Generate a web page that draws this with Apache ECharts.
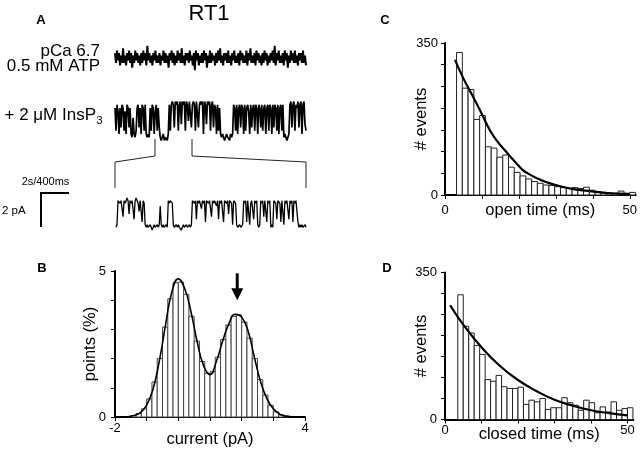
<!DOCTYPE html>
<html><head><meta charset="utf-8">
<script src="https://cdn.jsdelivr.net/npm/echarts@6/dist/echarts.min.js"></script>
<style>html,body{margin:0;padding:0;background:#fff}#c{width:640px;height:449px}</style>
</head><body><div id="c"></div><script>
const traceBaseline = [
2,-2,3,-1,2,-3,1,-2,4,-2, 1,-3,2,-1,3,-2,2,-4,1,-2, 3,-1,2,-2,1,-3,2,-2,3,-1,
2,-3,5,-1,2,-2,1,-3,2,-1, 3,-2,1,-2,2,-3,1,-1,3,-2, 2,-2,1,-4,2,-1,3,-2,2,-3,
1,-2,3,-1,2,-2,4,-2,1,-3, 2,-1,2,-2,3,-1,1,-3,2,-5, 3,-1,2,-3,1,-2,2,-2,3,-1,
2,-4,1,-2,3,-2,2,-1,1,-3, 2,-2,3,-1,4,-2,1,-3,2,-1, 2,-2,3,-2,1,-3,2,-1,3,-2,
1,-2,2,-3,3,-1,2,-2,1,-2, 3,-3,2,-1,4,-2,1,-2,2,-3, 3,-1,2,-2,1,-3,2,-2,3,-1,
2,-3,1,-2,2,-1,3,-2,5,-3, 2,-1,3,-2,1,-2,2,-3,3,-1, 2,-4,1,-2,3,-1,2,-2,3,-2,
1,-3,2,-1,2,-2,3,-2,1,-3];
const traceInsP3 = [
9,2,10,8,1,9,3,10,9,2,8,1,10,9,3,9,
1,0,6,1,0,2,
9,10,3,9,1,10,9,2,10,
1,0,1,0,
9,2,10,9,1,8,10,2,9,3,
0,-1,0,1,-1,0,0,-1,1,
10,2,10,
11,10,3,11,10,11,2,10,11,4,11,10,11,2,11,10,5,11,11,3,10,11,10,2,11,11,3,10,11,10,11,1,11,10,4,11,10,11,2,10,11,3,10,
9,1,10,2,9,1,
0,1,0,-1,0,1,0,0,-1,1,0,1,
10,9,2,10,1,9,10,3,10,9,1,10,2,9,10,8,1,10,3,9,10,2,10,9,1,10,9,3,10,2,9,10,1,9,10,2,10,9,1,10,3,10,9,2,10,1,9,10,2,10,
0,1,0,-1,0,1,
10,11,3,10,11,2,10,9,11,3,10,11,1,10,11,4,2];
const traceExpanded = [
0,1,10,
10,9,10,10,4,10,9,10,11,10,5,10,9,10,10,3,10,11,10,9,6,10,10,2,10,9,
1,0,1,0,0,1,0,-1,0,1,0,0,1,0,1,
8,1,
0,1,0,0,1,0,
10,9,10,10,9,
1,0,0,1,0,1,0,0,-1,0,1,0,0,1,0,0,1,0,1,
10,10,9,10,3,10,9,10,10,7,10,9,10,2,10,10,9,10,10,4,10,9,10,10,8,10,3,10,9,10,10,2,10,10,9,10,5,10,10,9,1,10,10,9,
1,0,0,1,0,0,1,
10,9,10,2,10,10,1,9,10,10,3,10,9,10,1,0,1,10,9,10,4,10,10,2,10,9,10,0,1,0,10,10,9,3,10,10,9,2,10,10,1,10,9,10,10,3,10,9,10,2,10,9,10,10,2,
0,1,0,1,0,0,1,0];

// ---------- Panel B: amplitude histogram ----------
const currentEdges = [-1.5,-1.333,-1.167,-1.0,-0.833,-0.667,-0.5,-0.333,-0.167,0,0.167,0.333,0.5,0.667,0.833,1.0,1.167,1.333,1.5,1.667,1.833,2.0,2.167,2.333,2.5,2.667,2.833,3.0,3.167,3.333,3.5];
const pointsPct = [0.05,0.12,0.28,0.62,1.2,2.0,3.08,4.05,4.6,4.62,4.2,3.45,2.6,1.9,1.5,1.55,2.05,2.65,3.15,3.45,3.5,3.25,2.7,2.0,1.28,0.75,0.4,0.18,0.07,0.03];
const fitCurrent = [-1.6,-1.4,-1.2,-1.0,-0.8,-0.6,-0.4,-0.2,0.0,0.2,0.4,0.6,0.8,1.0,1.2,1.4,1.6,1.8,2.0,2.2,2.4,2.6,2.8,3.0,3.2,3.4,3.6];
const fitPoints = [0.01,0.05,0.15,0.41,0.95,1.92,3.18,4.3,4.73,4.4,3.6,2.55,1.75,1.45,1.9,2.6,3.2,3.52,3.42,2.95,2.05,1.2,0.62,0.28,0.1,0.03,0.01];
const arrowMark = [1.86, 4.92, 4.0];   // x (pA), top, tip (%)
const bXTicks = [-2,-1,0,1,2,3,4], bXLabels = [-2,4];
const bYTicks = [0,1,2,3,4,5], bYLabels = [0,5];

// ---------- Panel C: open time histogram ----------
const openEdges = [3.125,4.688,6.25,7.813,9.375,10.938,12.5,14.063,15.625,17.188,18.75,20.313,21.875,23.438,25,26.563,28.125,29.688,31.25,32.813,34.375,35.938,37.5,39.063,40.625,42.188,43.75,45.313,46.875,48.438,50,51.563];
const openCounts = [328,246,243,174,183,111,108,87,92,64,52,44,37,31,27,23,22,19,17,15,17,15,18,11,8,6,5,4,9,4,6];
const openFitT = [2.7,5,7.6,10,12.1,14,16.5,19,21,23,25.5,28,30,34.4,38,43.3,47,50];
const openFitN = [311,268,226,186,150,125,100,76,58,47,36,28,23,14,10,5,3,2];

// ---------- Panel D: closed time histogram ----------
const closedEdges = [3.5,5,6.5,8,9.5,11,12.5,14,15.5,17,18.5,20,21.5,23,24.5,26,27.5,29,30.5,32,33.5,35,36.5,38,39.5,41,42.5,44,45.5,47,48.5,50,51.5];
const closedCounts = [297,222,206,176,155,95,91,105,78,74,74,77,36,46,42,50,24,28,28,52,40,34,22,46,40,16,30,18,42,22,26,28];
const closedFitT = [1.4,5,10,15,20,25,30,35,40,45,50];
const closedFitN = [272,226,172,128,94,68,47,33,22,15,10];
const timeTicks = [0,10,20,30,40,50], timeLabels = [0,50];
const eventTicks = [0,50,100,150,200,250,300,350], eventLabels = [0,350];

// ---------- build ----------
const FONT = '"Liberation Sans", Arial, Helvetica, sans-serif';
const idx = a => a.map((v,i)=>[i,v]);
const bins = (e,c) => c.map((v,i)=>[e[i], e[i+1], v]);
const pairs = (x,y) => x.map((v,i)=>[v, y[i]]);
function barRender(stroke){
  return function(params, api){
    const p0 = api.coord([api.value(0), api.value(2)]);
    const p1 = api.coord([api.value(1), 0]);
    return {type:'rect', shape:{x:p0[0], y:p0[1], width:p1[0]-p0[0], height:p1[1]-p0[1]},
      style:{fill:'#fff', stroke:stroke, lineWidth:1}};
  };
}
function valAxis(grid, min, max, interval, ticks, labels, margin, extra){
  return Object.assign({
    gridIndex:grid, type:'value', min:min, max:max, interval:interval,
    axisLine:{show:true, onZero:false, lineStyle:{color:'#000', width:2}},
    axisTick:{show:true, length:4, customValues:ticks, lineStyle:{color:'#000', width:1}},
    axisLabel:{show:true, fontSize:13, color:'#000', fontFamily:FONT, margin:margin, customValues:labels,
      formatter: v => labels.indexOf(v) >= 0 ? String(v) : ''},
    splitLine:{show:false},
    nameLocation:'middle',
    nameMoveOverlap:false,
    nameTextStyle:{fontSize:16.5, color:'#000', fontFamily:FONT}
  }, extra || {});
}
const hidden = (g, min, max) => ({gridIndex:g, type:'value', min:min, max:max, show:false});

const option = {
  animation:false,
  backgroundColor:'#fff',
  textStyle:{fontFamily:FONT, color:'#000'},
  grid:[
    {left:115, top:47, width:191, height:22},
    {left:115, top:100, width:191, height:42},
    {left:116, top:198, width:190, height:32},
    {left:115, top:271, width:190, height:146},
    {left:445, top:43, width:192.7, height:152},
    {left:445, top:272.5, width:188.3, height:147}
  ],
  xAxis:[
    hidden(0, 0, traceBaseline.length-1),
    hidden(1, 0, traceInsP3.length-1),
    hidden(2, 0, traceExpanded.length-1),
    valAxis(3, -2, 4, 1, bXTicks, bXLabels, 5, {name:'current (pA)', nameGap:14}),
    valAxis(4, 0, 51.6, 10, timeTicks, timeLabels, 9, {name:'open time (ms)', nameGap:7}),
    valAxis(5, 0, 51.6, 10, timeTicks, timeLabels, 4, {name:'closed time (ms)', nameGap:6})
  ],
  yAxis:[
    hidden(0, -4.5, 4.5),
    hidden(1, -1.5, 11.5),
    hidden(2, -1, 11),
    valAxis(3, 0, 5, 1, bYTicks, bYLabels, 9, {name:'points (%)', nameGap:16, nameRotate:90}),
    valAxis(4, 0, 350, 50, eventTicks, eventLabels, 7, {name:'# events', nameGap:15, nameRotate:90}),
    valAxis(5, 0, 350, 50, eventTicks, eventLabels, 8, {name:'# events', nameGap:15, nameRotate:90})
  ],
  series:[
    {type:'line', xAxisIndex:0, yAxisIndex:0, data:idx(traceBaseline), showSymbol:false, clip:false,
      lineStyle:{color:'#000', width:2}},
    {type:'line', xAxisIndex:1, yAxisIndex:1, data:idx(traceInsP3), showSymbol:false, clip:false,
      lineStyle:{color:'#000', width:1.7}},
    {type:'line', xAxisIndex:2, yAxisIndex:2, data:idx(traceExpanded), showSymbol:false, clip:false,
      lineStyle:{color:'#000', width:1.3}},
    {type:'custom', xAxisIndex:3, yAxisIndex:3, renderItem:barRender('#444'), data:bins(currentEdges, pointsPct),
      encode:{x:[0,1], y:2}, z:2},
    {type:'line', xAxisIndex:3, yAxisIndex:3, data:pairs(fitCurrent, fitPoints), smooth:true, showSymbol:false,
      lineStyle:{color:'#000', width:1.6}, z:3},
    {type:'custom', xAxisIndex:4, yAxisIndex:4, renderItem:barRender('#222'), data:bins(openEdges, openCounts),
      encode:{x:[0,1], y:2}, z:2},
    {type:'line', xAxisIndex:4, yAxisIndex:4, data:pairs(openFitT, openFitN), smooth:true, showSymbol:false,
      lineStyle:{color:'#000', width:2.2}, z:3},
    {type:'custom', xAxisIndex:5, yAxisIndex:5, renderItem:barRender('#222'), data:bins(closedEdges, closedCounts),
      encode:{x:[0,1], y:2}, z:2},
    {type:'line', xAxisIndex:5, yAxisIndex:5, data:pairs(closedFitT, closedFitN), smooth:true, showSymbol:false,
      lineStyle:{color:'#000', width:2.2}, z:3}
  ]
};

const chart = echarts.init(document.getElementById('c'), null, {renderer:'canvas'});
chart.setOption(option);

function txt(x, y, s, size, align, weight){
  return {type:'text', x:x, y:y, silent:true,
    style:{text:s, fill:'#000', font:(weight||'normal') + ' ' + size + 'px ' + FONT, align:align||'left', verticalAlign:'middle'}};
}
const aTop = chart.convertToPixel({gridIndex:3}, [arrowMark[0], arrowMark[1]]);
const aTip = chart.convertToPixel({gridIndex:3}, [arrowMark[0], arrowMark[2]]);
const headH = 12, headW = 6;
chart.setOption({graphic:[
  txt(41, 20, 'A', 13, 'center', 'bold'),
  txt(42, 268, 'B', 13, 'center', 'bold'),
  txt(385, 20, 'C', 13, 'center', 'bold'),
  txt(387, 268, 'D', 13, 'center', 'bold'),
  txt(209, 14, 'RT1', 22, 'center'),
  txt(100, 51, 'pCa 6.7', 17, 'right'),
  txt(100, 66, '0.5 mM ATP', 17, 'right'),
  txt(96, 115, '+ 2 \u03bcM InsP', 17, 'right'),
  txt(96.5, 121, '3', 11, 'left'),
  txt(45.5, 182, '2s/400ms', 11, 'center'),
  txt(2, 211, '2 pA', 11.5, 'left'),
  {type:'polyline', silent:true, shape:{points:[[69,193],[41,193],[41,227]]}, style:{stroke:'#000', lineWidth:2, fill:null}},
  {type:'polyline', silent:true, shape:{points:[[155,139],[155,156],[115,162],[115,188]]}, style:{stroke:'#222', lineWidth:1, fill:null}},
  {type:'polyline', silent:true, shape:{points:[[192,139],[192,156],[306,162],[306,188]]}, style:{stroke:'#222', lineWidth:1, fill:null}},
  {type:'line', silent:true, shape:{x1:aTop[0], y1:aTop[1], x2:aTip[0], y2:aTip[1]-headH+1}, style:{stroke:'#000', lineWidth:3}},
  {type:'polygon', silent:true, shape:{points:[[aTip[0]-headW, aTip[1]-headH],[aTip[0]+headW, aTip[1]-headH],[aTip[0], aTip[1]]]}, style:{fill:'#000'}}
]});
</script></body></html>
